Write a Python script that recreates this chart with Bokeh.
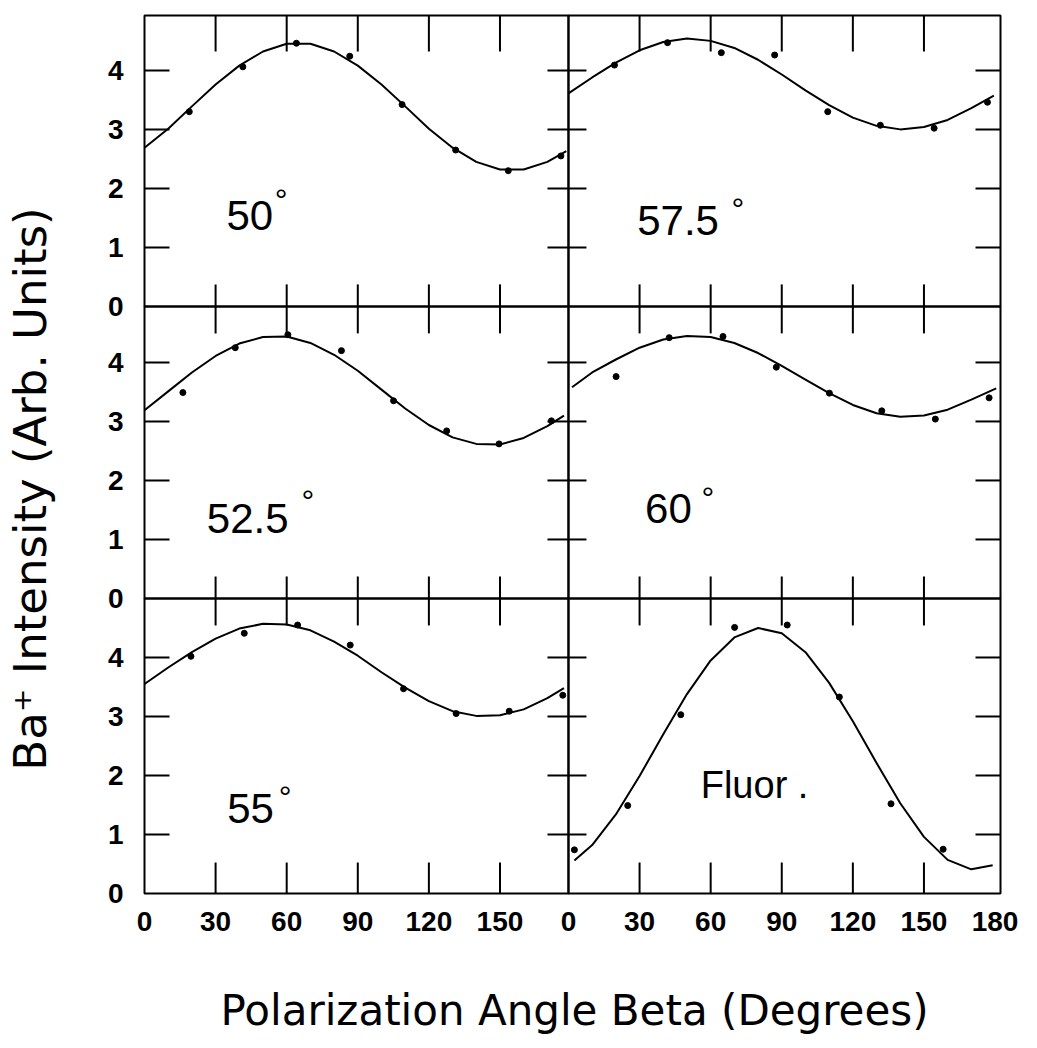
from bokeh.plotting import figure
from bokeh.models import Range1d, FixedTicker, BoxAnnotation, Label, ColumnDataSource
from bokeh.transform import dodge
from bokeh.embed import file_html
from bokeh.resources import INLINE

# ---------------- values ----------------
panel_names = ["50", "57.5", "52.5", "60", "55", "Fluor ."]

# measured points (polarization angle beta in degrees, Ba+ intensity)
pts50_x = [18.9, 41.5, 64.1, 86.6, 108.7, 131.3, 153.5, 175.7]
pts50_y = [3.30, 4.06, 4.46, 4.24, 3.42, 2.65, 2.30, 2.55]
pts575_x = [19.4, 41.8, 64.5, 87.0, 109.4, 131.6, 154.3, 176.8]
pts575_y = [4.09, 4.47, 4.30, 4.26, 3.30, 3.07, 3.02, 3.46]
pts525_x = [16.2, 38.3, 60.5, 83.1, 105.1, 127.5, 149.6, 171.7]
pts525_y = [3.49, 4.25, 4.47, 4.20, 3.35, 2.84, 2.62, 3.01]
pts60_x = [20.1, 42.5, 65.2, 87.7, 110.1, 132.2, 154.8, 177.5]
pts60_y = [3.76, 4.42, 4.44, 3.92, 3.48, 3.18, 3.04, 3.40]
pts55_x = [19.6, 42.1, 64.6, 86.8, 109.3, 131.5, 153.9, 176.5]
pts55_y = [4.02, 4.41, 4.55, 4.21, 3.47, 3.05, 3.09, 3.36]
ptsfl_x = [2.5, 25.0, 47.4, 70.1, 92.3, 114.3, 136.1, 158.1]
ptsfl_y = [0.74, 1.49, 3.03, 4.51, 4.55, 3.33, 1.52, 0.75]

# fitted curves, read every 10 degrees
fit50_x = [0, 10, 20, 30, 40, 50, 60, 70, 80, 90, 100, 110, 120, 130, 140, 150, 160, 170, 178]
fit50_y = [2.69, 3.01, 3.39, 3.76, 4.08, 4.32, 4.45, 4.45, 4.32, 4.08, 3.76, 3.39, 3.01, 2.69, 2.45, 2.32, 2.32, 2.45, 2.63]
fit575_x = [0, 10, 20, 30, 40, 50, 60, 70, 80, 90, 100, 110, 120, 130, 140, 150, 160, 170, 179.5]
fit575_y = [3.61, 3.88, 4.13, 4.34, 4.48, 4.54, 4.50, 4.38, 4.18, 3.93, 3.66, 3.41, 3.20, 3.06, 3.00, 3.04, 3.16, 3.36, 3.57]
fit525_x = [0, 10, 20, 30, 40, 50, 60, 70, 80, 90, 100, 110, 120, 130, 140, 150, 160, 170, 177]
fit525_y = [3.19, 3.51, 3.83, 4.11, 4.32, 4.43, 4.44, 4.33, 4.13, 3.86, 3.54, 3.22, 2.94, 2.73, 2.62, 2.61, 2.72, 2.92, 3.10]
fit60_x = [1.5, 10, 20, 30, 40, 50, 60, 70, 80, 90, 100, 110, 120, 130, 140, 150, 160, 170, 180.5]
fit60_y = [3.58, 3.83, 4.05, 4.25, 4.39, 4.45, 4.43, 4.33, 4.16, 3.94, 3.71, 3.48, 3.28, 3.14, 3.08, 3.10, 3.20, 3.37, 3.56]
fit55_x = [0, 10, 20, 30, 40, 50, 60, 70, 80, 90, 100, 110, 120, 130, 140, 150, 160, 170, 177]
fit55_y = [3.55, 3.83, 4.09, 4.32, 4.49, 4.57, 4.56, 4.46, 4.27, 4.03, 3.75, 3.49, 3.26, 3.09, 3.01, 3.02, 3.12, 3.31, 3.48]
fitfl_x = [2.5, 10, 20, 30, 40, 50, 60, 70, 80, 90, 100, 110, 120, 130, 140, 150, 160, 170, 179]
fitfl_y = [0.56, 0.82, 1.34, 1.99, 2.70, 3.38, 3.95, 4.34, 4.50, 4.41, 4.09, 3.57, 2.92, 2.21, 1.53, 0.96, 0.57, 0.41, 0.48]

x_ticks_left = [0, 30, 60, 90, 120, 150]
x_ticks_right = [0, 30, 60, 90, 120, 150, 180]
y_ticks = [0, 1, 2, 3, 4]

# ---------------- layout constants ----------------
W, H = 1037, 1048
COL_OFF = [0.0, 178.9]          # panel column offsets (deg)
COL_W = [178.9, 182.3]
ROW_OFF = [9.95, 5.0, 0.0]      # panel row offsets (intensity units)
ROW_H = [4.93, 4.95, 5.0]
X_END = COL_OFF[1] + COL_W[1]
Y_END = ROW_OFF[0] + ROW_H[0]
LEFT, RIGHT, TOP, BOTTOM = 144, 1000, 15, 893   # panel block in page pixels
PX_DEG = (RIGHT - LEFT) / X_END
PX_UNIT = (BOTTOM - TOP) / Y_END

def sx(px):   # page pixel -> x data
    return (px - LEFT) / PX_DEG
def sy(py):   # page pixel -> y data
    return (BOTTOM - py) / PX_UNIT

panels = [
    (0, 0, pts50_x, pts50_y, fit50_x, fit50_y),
    (0, 1, pts575_x, pts575_y, fit575_x, fit575_y),
    (1, 0, pts525_x, pts525_y, fit525_x, fit525_y),
    (1, 1, pts60_x, pts60_y, fit60_x, fit60_y),
    (2, 0, pts55_x, pts55_y, fit55_x, fit55_y),
    (2, 1, ptsfl_x, ptsfl_y, fitfl_x, fitfl_y),
]
# panel caption: left x, baseline y (panel coordinates); degree ring centre
caption_pos = [(34.6, 1.29), (29.0, 1.20), (26.3, 1.10), (32.3, 1.27), (34.9, 1.18), (55.8, 1.58)]
degree_pos = [(57.7, 1.90), (71.5, 1.74), (69.0, 1.74), (58.8, 1.80), (59.4, 1.73), None]
CAPTION_SHIFT = 15 / PX_UNIT     # renderer baseline correction
DEG_SHIFT = 13.5 / PX_UNIT

p = figure(width=W, height=H, x_range=Range1d(sx(0), sx(W)), y_range=Range1d(sy(H), sy(0)),
           min_border=0, output_backend="svg", toolbar_location=None, tools="")
p.grid.visible = False
p.outline_line_color = None
p.background_fill_color = "white"
p.border_fill_color = "white"

# axes: labels only (ticks are drawn per panel below), pinned to the panel block
xt, xl = [], {}
for c, tl in enumerate([x_ticks_left, x_ticks_right]):
    for t in tl:
        v = COL_OFF[c] + t
        xt.append(v)
        xl[v] = str(t)
yt, yl = [], {}
for r in range(3):
    for t in y_ticks:
        v = ROW_OFF[r] + t
        yt.append(v)
        yl[v] = str(t)
p.xaxis.ticker = FixedTicker(ticks=xt)
p.xaxis.major_label_overrides = xl
p.yaxis.ticker = FixedTicker(ticks=yt)
p.yaxis.major_label_overrides = yl
p.xaxis.fixed_location = 0
p.yaxis.fixed_location = 0
for ax in (p.xaxis[0], p.yaxis[0]):
    ax.axis_line_color = None
    ax.major_tick_line_color = None
    ax.minor_tick_line_color = None
    ax.major_label_text_font = "Liberation Sans"
    ax.major_label_text_font_style = "bold"
    ax.major_label_text_font_size = "28px"
    ax.major_label_text_color = "black"
p.xaxis.major_label_standoff = 12
p.yaxis.major_label_standoff = 15

# panel frames
for r in range(3):
    for c in range(2):
        p.add_layout(BoxAnnotation(left=COL_OFF[c], right=COL_OFF[c] + COL_W[c],
                                   bottom=ROW_OFF[r], top=ROW_OFF[r] + ROW_H[r],
                                   fill_alpha=0, line_color="black", line_width=2, line_alpha=1))

# inward ticks
BOT_LEN = [22, 22, 31]
TOP_LEN = [36, 27, 27]
tick_rays = {"x": [], "y": [], "len": [], "ang": []}
def add_ray(x, y, length, ang):
    tick_rays["x"].append(x); tick_rays["y"].append(y)
    tick_rays["len"].append(length); tick_rays["ang"].append(ang)
for r in range(3):
    for c in range(2):
        for t in x_ticks_left[1:]:
            add_ray(COL_OFF[c] + t, ROW_OFF[r], BOT_LEN[r], 90)
            add_ray(COL_OFF[c] + t, ROW_OFF[r] + ROW_H[r], TOP_LEN[r], -90)
    for t in y_ticks[1:]:
        yy = ROW_OFF[r] + t
        add_ray(0, yy, 25, 0)
        add_ray(COL_OFF[1], yy, 21, 180)
        add_ray(COL_OFF[1], yy, 18, 0)
        add_ray(X_END, yy, 25, 180)
p.ray(x="x", y="y", length="len", angle="ang", source=ColumnDataSource(tick_rays),
      length_units="screen", angle_units="deg", line_color="black", line_width=2)

# curves and points
for (r, c, px, py, fx, fy) in panels:
    fsrc = ColumnDataSource(dict(x=fx, y=fy))
    p.line(x=dodge("x", COL_OFF[c]), y=dodge("y", ROW_OFF[r]), source=fsrc,
           line_color="black", line_width=2, line_join="round")
    psrc = ColumnDataSource(dict(x=px, y=py))
    p.scatter(x=dodge("x", COL_OFF[c]), y=dodge("y", ROW_OFF[r]), source=psrc,
              size=6, color="black")

# panel captions
DEG_FONT = 32
DEG_RISE = 0.593 * DEG_FONT
for i, (r, c, *_rest) in enumerate(panels):
    cx, cy = caption_pos[i]
    is_fl = panel_names[i].startswith("Fluor")
    p.add_layout(Label(x=COL_OFF[c] + cx, y=ROW_OFF[r] + cy + CAPTION_SHIFT, text=panel_names[i],
                       text_font="Liberation Sans", text_font_size="38px" if is_fl else "42px",
                       text_align="left", text_baseline="alphabetic", text_color="black"))
    if degree_pos[i] is not None:
        dx, dy = degree_pos[i]
        p.add_layout(Label(x=COL_OFF[c] + dx, y=ROW_OFF[r] + dy - DEG_RISE / PX_UNIT + DEG_SHIFT,
                           text="°", text_font="Liberation Sans", text_font_size=f"{DEG_FONT}px",
                           text_align="center", text_baseline="alphabetic", text_color="black"))

# axis titles
p.add_layout(Label(x=sx(30), y=sy(488.5), text="Ba\u207a Intensity (Arb. Units)",
                   angle=90, angle_units="deg", text_align="center", text_baseline="middle",
                   text_font="DejaVu Sans", text_font_size="45px", text_color="black"))
p.add_layout(Label(x=sx(574), y=sy(1010), text="Polarization Angle Beta (Degrees)",
                   text_align="center", text_baseline="middle",
                   text_font="DejaVu Sans", text_font_size="42px", text_color="black"))

open("out.html", "w").write(file_html(p, INLINE))
